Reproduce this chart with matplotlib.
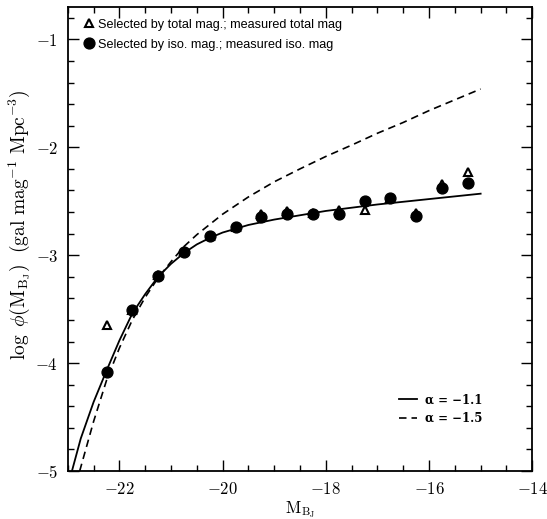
import numpy as np
import matplotlib
matplotlib.use("Agg")
import matplotlib.pyplot as plt

plt.rcParams['mathtext.fontset'] = 'cm'
plt.rcParams['font.family'] = 'serif'
plt.rcParams['font.serif'] = ['cmr10', 'DejaVu Serif']
plt.rcParams['axes.formatter.use_mathtext'] = True

# binned luminosity function (0.5 mag bins)
mag_bins = [-22.25, -21.75, -21.25, -20.75, -20.25, -19.75, -19.25, -18.75,
            -18.25, -17.75, -17.25, -16.75, -16.25, -15.75, -15.25]
phi_iso = [-4.08, -3.51, -3.19, -2.97, -2.82, -2.74, -2.645, -2.614,
           -2.614, -2.62, -2.50, -2.47, -2.64, -2.38, -2.33]
phi_total = [-3.65, -3.51, -3.18, -2.96, -2.82, -2.74, -2.62, -2.59,
             -2.61, -2.58, -2.58, -2.47, -2.61, -2.34, -2.23]

# fitted curves
mag_fit11 = [-22.92, -22.75, -22.5, -22.25, -22.0, -21.75, -21.5, -21.25, -21.0,
             -20.75, -20.5, -20.25, -20.0, -19.5, -19.0, -18.5, -18.0, -17.5,
             -17.0, -16.0, -15.0]
phi_fit11 = [-5.00, -4.70, -4.36, -4.07, -3.79, -3.54, -3.36, -3.20, -3.08,
             -2.98, -2.90, -2.84, -2.79, -2.72, -2.67, -2.63, -2.59, -2.56,
             -2.53, -2.48, -2.43]
mag_fit15 = [-22.77, -22.5, -22.25, -22.0, -21.75, -21.5, -21.25, -21.0, -20.75,
             -20.5, -20.0, -19.5, -19.0, -18.5, -18.0, -17.5, -17.0, -16.5,
             -16.0, -15.5, -15.0]
phi_fit15 = [-5.00, -4.54, -4.16, -3.86, -3.60, -3.39, -3.21, -3.06, -2.92,
             -2.81, -2.62, -2.46, -2.32, -2.20, -2.085, -1.98, -1.87, -1.77,
             -1.66, -1.56, -1.46]

fig = plt.figure(figsize=(5.47, 5.19), dpi=100)
ax = fig.add_axes([0.124, 0.0925, 0.849, 0.894])

l11, = ax.plot(mag_fit11, phi_fit11, color='black', lw=1.3)
l15, = ax.plot(mag_fit15, phi_fit15, color='black', lw=1.2, ls=(0, (4.5, 3)))

tri, = ax.plot(mag_bins, phi_total, ls='none', marker='^', ms=6, mfc='white',
               mec='black', mew=1.5)
circ, = ax.plot(mag_bins, phi_iso, ls='none', marker='o', ms=7.8, color='black')

ax.set_xlim(-23, -14)
ax.set_ylim(-5, -0.7)
ax.set_xticks([-22, -20, -18, -16, -14])
ax.set_xticks(np.arange(-23, -13.9, 0.5), minor=True)
ax.set_yticks([-5, -4, -3, -2, -1])
ax.set_yticks(np.arange(-5, -0.69, 0.2), minor=True)
ax.tick_params(which='both', direction='in', top=True, right=True, width=1.0)
ax.tick_params(which='major', length=8, labelsize=12, pad=7)
ax.tick_params(which='minor', length=4.5)
for s in ax.spines.values():
    s.set_linewidth(1.3)

ax.set_xlabel(r'$\mathrm{M}_{\mathrm{B}_{\mathrm{J}}}$', fontsize=12, labelpad=2)
ax.set_ylabel(r'$\log\ \phi(\mathrm{M}_{\mathrm{B}_{\mathrm{J}}})\ \ (\mathrm{gal\ mag}^{-1}\ \mathrm{Mpc}^{-3})$',
              fontsize=14)
ax.yaxis.set_label_coords(-0.075, 0.53)

leg1 = ax.legend([tri, circ],
                 ['Selected by total mag.; measured total mag',
                  'Selected by iso. mag.; measured iso. mag'],
                 loc='upper left', bbox_to_anchor=(0.033, 0.975), frameon=False,
                 prop={'family': 'Liberation Sans', 'size': 9.1},
                 handlelength=0.9, handletextpad=0.3, labelspacing=0.65,
                 borderpad=0, borderaxespad=0)
ax.add_artist(leg1)
ax.legend([l11, l15], ['\u03b1 = \u22121.1', '\u03b1 = \u22121.5'],
          loc='upper left', bbox_to_anchor=(0.713, 0.167), frameon=False,
          prop={'family': 'DejaVu Serif', 'weight': 'bold', 'size': 8.5},
          handlelength=1.5, handletextpad=0.7,
          labelspacing=0.45, borderpad=0, borderaxespad=0)

fig.savefig('out.png', dpi=100)
